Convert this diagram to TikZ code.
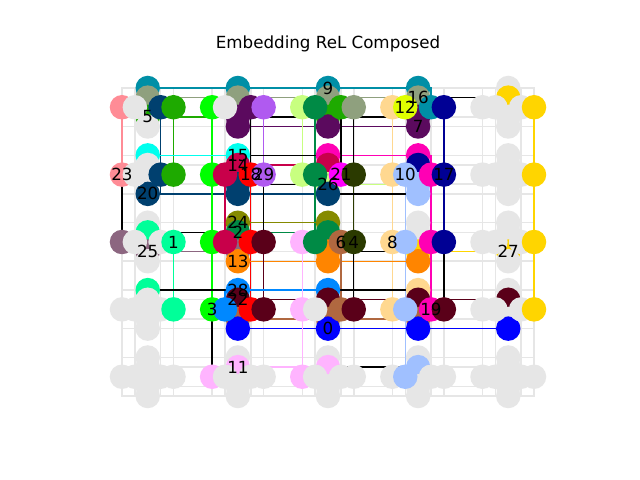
\documentclass[tikz,border=0pt]{standalone}
\usepackage{fontspec}
\setmainfont{DejaVu Sans}
\definecolor{G}{HTML}{E6E6E6}
\definecolor{Te}{HTML}{008FA6}
\definecolor{Gg}{HTML}{8FA07E}
\definecolor{Sa}{HTML}{FF8C96}
\definecolor{Nv}{HTML}{00406F}
\definecolor{Gn}{HTML}{1EAA00}
\definecolor{Bg}{HTML}{00FF00}
\definecolor{Dp}{HTML}{5B0A5E}
\definecolor{Lv}{HTML}{B05AF0}
\definecolor{Yg}{HTML}{C8FF80}
\definecolor{Dg}{HTML}{008A45}
\definecolor{Pe}{HTML}{FFD890}
\definecolor{Li}{HTML}{DFFF00}
\definecolor{Dn}{HTML}{000094}
\definecolor{Go}{HTML}{FFD500}
\definecolor{Cy}{HTML}{00FFEE}
\definecolor{Cr}{HTML}{C8004A}
\definecolor{Rd}{HTML}{FF0000}
\definecolor{Mg}{HTML}{FF00B4}
\definecolor{Fu}{HTML}{FF00FF}
\definecolor{Do}{HTML}{2B3A00}
\definecolor{Ol}{HTML}{858A00}
\definecolor{Ma}{HTML}{8C6680}
\definecolor{Mi}{HTML}{00FF99}
\definecolor{Mr}{HTML}{5A0019}
\definecolor{Or}{HTML}{FF8500}
\definecolor{Az}{HTML}{0088FF}
\definecolor{Lp}{HTML}{FFB4FF}
\definecolor{Br}{HTML}{B06840}
\definecolor{Lb}{HTML}{A0C0FF}
\definecolor{Bl}{HTML}{0000FF}
\newcommand\QV[6]{%
  \node[qubit,fill=#3] (n-v0-#1-#2) at (v0-#1-#2) {};
  \node[qubit,fill=#4] (n-v1-#1-#2) at (v1-#1-#2) {};
  \node[qubit,fill=#5] (n-v2-#1-#2) at (v2-#1-#2) {};
  \node[qubit,fill=#6] (n-v3-#1-#2) at (v3-#1-#2) {};}
\newcommand\QH[6]{%
  \node[qubit,fill=#3] (n-h0-#1-#2) at (h0-#1-#2) {};
  \node[qubit,fill=#4] (n-h1-#1-#2) at (h1-#1-#2) {};
  \node[qubit,fill=#5] (n-h2-#1-#2) at (h2-#1-#2) {};
  \node[qubit,fill=#6] (n-h3-#1-#2) at (h3-#1-#2) {};}
\begin{document}
\begin{tikzpicture}[x=12.875pt,y=-9.625pt,
  qubit/.style={circle,minimum size=24.5pt,inner sep=0pt,draw=none},
  glink/.style={draw=G,line width=1.5pt},
  clink/.style={line width=1.4pt},
  ilink/.style={draw=black,line width=1.4pt},
  lab/.style={font=\fontsize{16.7}{20}\selectfont,inner sep=0pt,text=black}]
\useasboundingbox[fill=white] (-9.4757,-9.1429) rectangle (40.233,40.727);
\node[font=\fontsize{16.7}{20}\selectfont] (title) at (16.0,-4.62) {Embedding ReL Composed};
% positions
\foreach \i in {0,...,4}{\foreach \j in {0,...,4}{
  \pgfmathsetmacro\X{7*\j}\pgfmathsetmacro\Y{7*\i}
  \coordinate (v0-\i-\j) at ({\X+2},{\Y+0});
  \coordinate (v1-\i-\j) at ({\X+2},{\Y+1});
  \coordinate (v2-\i-\j) at ({\X+2},{\Y+3});
  \coordinate (v3-\i-\j) at ({\X+2},{\Y+4});
  \coordinate (h0-\i-\j) at ({\X+0},{\Y+2});
  \coordinate (h1-\i-\j) at ({\X+1},{\Y+2});
  \coordinate (h2-\i-\j) at ({\X+3},{\Y+2});
  \coordinate (h3-\i-\j) at ({\X+4},{\Y+2});
}}
% unused couplers
\foreach \i in {0,...,4}{\foreach \j in {0,...,4}{\foreach \k in {0,...,3}{\foreach \l in {0,...,3}{
  \draw[glink] (v\k-\i-\j) -| (h\l-\i-\j);}}}}
\foreach \i in {0,...,4}{\foreach \j/\jb in {0/1,1/2,2/3,3/4}{\foreach \k in {0,...,3}{
  \draw[glink] (v\k-\i-\j) -- (v\k-\i-\jb);}}}
\foreach \ia/\ib in {0/1,1/2,2/3,3/4}{\foreach \j in {0,...,4}{\foreach \k in {0,...,3}{
  \draw[glink] (h\k-\ia-\j) -- (h\k-\ib-\j);}}}
% chain edges
\draw[clink,draw=Te] (v0-0-0) -- (v0-0-1) -- (v0-0-2) -- (v0-0-3);
\draw[clink,draw=Te] (v0-0-3) -| (h2-0-3);
\draw[clink,draw=Gg] (v1-0-0) -- (v1-0-1) -- (v1-0-2) -- (v1-0-3);
\draw[clink,draw=Gg] (v1-0-2) -| (h3-0-2);
\draw[clink,draw=Sa] (h0-0-0) -- (h0-1-0);
\draw[clink,draw=Nv] (h2-0-0) -- (h2-1-0);
\draw[clink,draw=Nv] (v3-1-0) -| (h2-1-0);
\draw[clink,draw=Nv] (v3-1-0) -- (v3-1-1) -- (v3-1-2);
\draw[clink,draw=Gn] (v2-0-0) -| (h3-0-0);
\draw[clink,draw=Gn] (h3-0-0) -- (h3-1-0);
\draw[clink,draw=Gn] (v2-0-0) -- (v2-0-1);
\draw[clink,draw=Gn] (v2-0-2) -| (h2-0-2);
\draw[clink,draw=Bg] (h0-0-1) -- (h0-1-1) -- (h0-2-1) -- (h0-3-1);
\draw[clink,draw=Dp] (v3-0-1) -| (h2-0-1);
\draw[clink,draw=Dp] (v2-0-1) -| (h2-0-1);
\draw[clink,draw=Dp] (v3-0-1) -- (v3-0-2) -- (v3-0-3);
\draw[clink,draw=Lv] (h3-0-1) -- (h3-1-1);
\draw[clink,draw=Yg] (h0-0-2) -- (h0-1-2);
\draw[clink,draw=Yg] (v2-1-2) -| (h0-1-2);
\draw[clink,draw=Yg] (v2-1-2) -- (v2-1-3);
\draw[clink,draw=Dg] (h1-0-2) -- (h1-1-2) -- (h1-2-2);
\draw[clink,draw=Dg] (v1-2-1) -- (v1-2-2);
\draw[clink,draw=Dg] (v1-2-2) -| (h1-2-2);
\draw[clink,draw=Dn] (h3-0-3) -- (h3-1-3) -- (h3-2-3);
\draw[clink,draw=Dn] (v1-1-3) -| (h3-1-3);
\draw[clink,draw=Pe] (h0-0-3) -- (h0-1-3) -- (h0-2-3) -- (h0-3-3);
\draw[clink,draw=Pe] (v0-3-3) -| (h0-3-3);
\draw[clink,draw=Go] (h3-0-4) -- (h3-1-4) -- (h3-2-4) -- (h3-3-4);
\draw[clink,draw=Go] (v1-0-4) -| (h3-0-4);
\draw[clink,draw=Go] (v2-2-4) -| (h3-2-4);
\draw[clink,draw=Go] (v2-2-3) -- (v2-2-4);
\draw[clink,draw=Cy] (v0-1-0) -- (v0-1-1);
\draw[clink,draw=Cr] (v1-1-1) -| (h1-1-1);
\draw[clink,draw=Cr] (h1-1-1) -- (h1-2-1);
\draw[clink,draw=Cr] (v1-1-1) -- (v1-1-2);
\draw[clink,draw=Rd] (h2-1-1) -- (h2-2-1) -- (h2-3-1);
\draw[clink,draw=Mg] (v0-1-2) -- (v0-1-3);
\draw[clink,draw=Mg] (v0-1-3) -| (h2-1-3);
\draw[clink,draw=Mg] (h2-1-3) -- (h2-2-3) -- (h2-3-3);
\draw[clink,draw=Do] (h3-1-2) -- (h3-2-2);
\draw[clink,draw=Lb] (v3-1-3) -| (h1-1-3);
\draw[clink,draw=Lb] (h1-1-3) -- (h1-2-3) -- (h1-3-3) -- (h1-4-3);
\draw[clink,draw=Lb] (v1-4-3) -| (h1-4-3);
\draw[clink,draw=Ma] (v2-2-0) -| (h0-2-0);
\draw[clink,draw=Ma] (v2-2-0) -- (v2-2-1);
\draw[clink,draw=Mi] (v1-2-0) -| (h3-2-0);
\draw[clink,draw=Mi] (h3-2-0) -- (h3-3-0);
\draw[clink,draw=Mi] (v0-3-0) -| (h3-3-0);
\draw[clink,draw=Ol] (v0-2-1) -- (v0-2-2);
\draw[clink,draw=Or] (v3-2-1) -- (v3-2-2) -- (v3-2-3);
\draw[clink,draw=Br] (h2-2-2) -- (h2-3-2);
\draw[clink,draw=Br] (v2-3-2) -| (h2-3-2);
\draw[clink,draw=Br] (v2-3-1) -- (v2-3-2) -- (v2-3-3);
\draw[clink,draw=Mr] (v1-3-1) -- (v1-3-2) -- (v1-3-3) -- (v1-3-4);
\draw[clink,draw=Mr] (v1-3-1) -| (h3-3-1);
\draw[clink,draw=Mr] (v1-3-2) -| (h3-3-2);
\draw[clink,draw=Mr] (v1-3-3) -| (h3-3-3);
\draw[clink,draw=Mr] (h3-2-1) -- (h3-3-1);
\draw[clink,draw=Az] (v0-3-1) -- (v0-3-2);
\draw[clink,draw=Az] (v0-3-1) -| (h1-3-1);
\draw[clink,draw=Bl] (v3-3-1) -- (v3-3-2) -- (v3-3-3) -- (v3-3-4);
\draw[clink,draw=Lp] (h0-2-2) -- (h0-3-2) -- (h0-4-2);
\draw[clink,draw=Lp] (v1-4-1) -| (h0-4-1);
\draw[clink,draw=Lp] (v1-4-1) -- (v1-4-2);
\draw[clink,draw=Lp] (v1-4-2) -| (h0-4-2);
% interaction edges
\draw[ilink] (h0-1-0) -- (h0-2-0);
\draw[ilink] (h0-3-1) -- (h0-4-1);
\draw[ilink] (h2-0-1) -- (h2-1-1);
\draw[ilink] (v0-1-1) -- (v0-1-2);
\draw[ilink] (h3-2-3) -- (h3-3-3);
\draw[ilink] (v1-4-2) -- (v1-4-3);
\draw[ilink] (v2-0-1) -- (v2-0-2);
\draw[ilink] (v2-0-2) -- (v2-0-3);
\draw[ilink] (v1-2-0) -- (v1-2-1);
\draw[ilink] (v0-3-0) -- (v0-3-1);
\draw[ilink] (h3-1-1) -- (h3-2-1);
\draw[ilink] (v3-1-2) -- (v3-1-3);
\draw[ilink] (v2-2-2) -- (v2-2-3);
\draw[ilink] (v0-3-2) -- (v0-3-3);
\draw[ilink] (h3-2-2) -- (h3-3-2);
\draw[ilink] (h2-0-2) -- (h2-1-2);
\draw[ilink] (h3-0-2) -- (h3-1-2);
\draw[ilink] (v1-0-3) -- (v1-0-4);
\draw[ilink] (v2-1-1) -- (v2-1-2);
% qubits
\QV{0}{0}{Te}{Gg}{Gn}{G} \QH{0}{0}{Sa}{G}{Nv}{Gn}
\QV{0}{1}{Te}{Gg}{Dp}{Dp} \QH{0}{1}{Bg}{G}{Dp}{Lv}
\QV{0}{2}{Te}{Gg}{Gn}{Dp} \QH{0}{2}{Yg}{Dg}{Gn}{Gg}
\QV{0}{3}{Te}{Gg}{Dp}{Dp} \QH{0}{3}{Pe}{Li}{Te}{Dn}
\QV{0}{4}{G}{Go}{G}{G} \QH{0}{4}{G}{G}{G}{Go}
\QV{1}{0}{Cy}{G}{G}{Nv} \QH{1}{0}{Sa}{G}{Nv}{Gn}
\QV{1}{1}{Cy}{Cr}{Nv}{Nv} \QH{1}{1}{Bg}{Cr}{Rd}{Lv}
\QV{1}{2}{Mg}{Cr}{Yg}{Nv} \QH{1}{2}{Yg}{Dg}{Fu}{Do}
\QV{1}{3}{Mg}{Dn}{Lb}{Lb} \QH{1}{3}{Pe}{Lb}{Mg}{Dn}
\QV{1}{4}{G}{G}{G}{G} \QH{1}{4}{G}{G}{G}{Go}
\QV{2}{0}{G}{Mi}{Ma}{G} \QH{2}{0}{Ma}{G}{G}{Mi}
\QV{2}{1}{Ol}{Dg}{Ma}{Or} \QH{2}{1}{Bg}{Cr}{Rd}{Mr}
\QV{2}{2}{Ol}{Dg}{Or}{Or} \QH{2}{2}{Lp}{Dg}{Br}{Do}
\QV{2}{3}{G}{G}{Go}{Or} \QH{2}{3}{Pe}{Lb}{Mg}{Dn}
\QV{2}{4}{G}{G}{Go}{G} \QH{2}{4}{G}{G}{G}{Go}
\QV{3}{0}{Mi}{G}{G}{G} \QH{3}{0}{G}{G}{G}{Mi}
\QV{3}{1}{Az}{Mr}{Br}{Bl} \QH{3}{1}{Bg}{Az}{Rd}{Mr}
\QV{3}{2}{Az}{Mr}{Br}{Bl} \QH{3}{2}{Lp}{G}{Br}{Mr}
\QV{3}{3}{Pe}{Mr}{Br}{Bl} \QH{3}{3}{Pe}{Lb}{Mg}{Mr}
\QV{3}{4}{G}{Mr}{G}{Bl} \QH{3}{4}{G}{G}{G}{Go}
\QV{4}{0}{G}{G}{G}{G} \QH{4}{0}{G}{G}{G}{G}
\QV{4}{1}{G}{Lp}{G}{G} \QH{4}{1}{Lp}{G}{G}{G}
\QV{4}{2}{G}{Lp}{G}{G} \QH{4}{2}{Lp}{G}{G}{G}
\QV{4}{3}{G}{Lb}{G}{G} \QH{4}{3}{G}{Lb}{G}{G}
\QV{4}{4}{G}{G}{G}{G} \QH{4}{4}{G}{G}{G}{G}
% labels
\node[lab] (l0) at (v3-3-2) {0};
\node[lab] (l1) at (h3-2-0) {1};
\node[lab] (l2) at (v1-2-1) {2};
\node[lab] (l3) at (h0-3-1) {3};
\node[lab] (l4) at (h3-2-2) {4};
\node[lab] (l5) at (v2-0-0) {5};
\node[lab] (l6) at (h2-2-2) {6};
\node[lab] (l7) at (v3-0-3) {7};
\node[lab] (l8) at (h0-2-3) {8};
\node[lab] (l9) at (v0-0-2) {9};
\node[lab] (l10) at (h1-1-3) {10};
\node[lab] (l11) at (v1-4-1) {11};
\node[lab] (l12) at (h1-0-3) {12};
\node[lab] (l13) at (v3-2-1) {13};
\node[lab] (l14) at (v1-1-1) {14};
\node[lab] (l15) at (v0-1-1) {15};
\node[lab] (l16) at (v1-0-3) {16};
\node[lab] (l17) at (h3-1-3) {17};
\node[lab] (l18) at (h2-1-1) {18};
\node[lab] (l19) at (h2-3-3) {19};
\node[lab] (l20) at (v3-1-0) {20};
\node[lab] (l21) at (h2-1-2) {21};
\node[lab] (l22) at (v1-3-1) {22};
\node[lab] (l23) at (h0-1-0) {23};
\node[lab] (l24) at (v0-2-1) {24};
\node[lab] (l25) at (v2-2-0) {25};
\node[lab] (l26) at (v2-1-2) {26};
\node[lab] (l27) at (v2-2-4) {27};
\node[lab] (l28) at (v0-3-1) {28};
\node[lab] (l29) at (h3-1-1) {29};
\end{tikzpicture}
\end{document}
